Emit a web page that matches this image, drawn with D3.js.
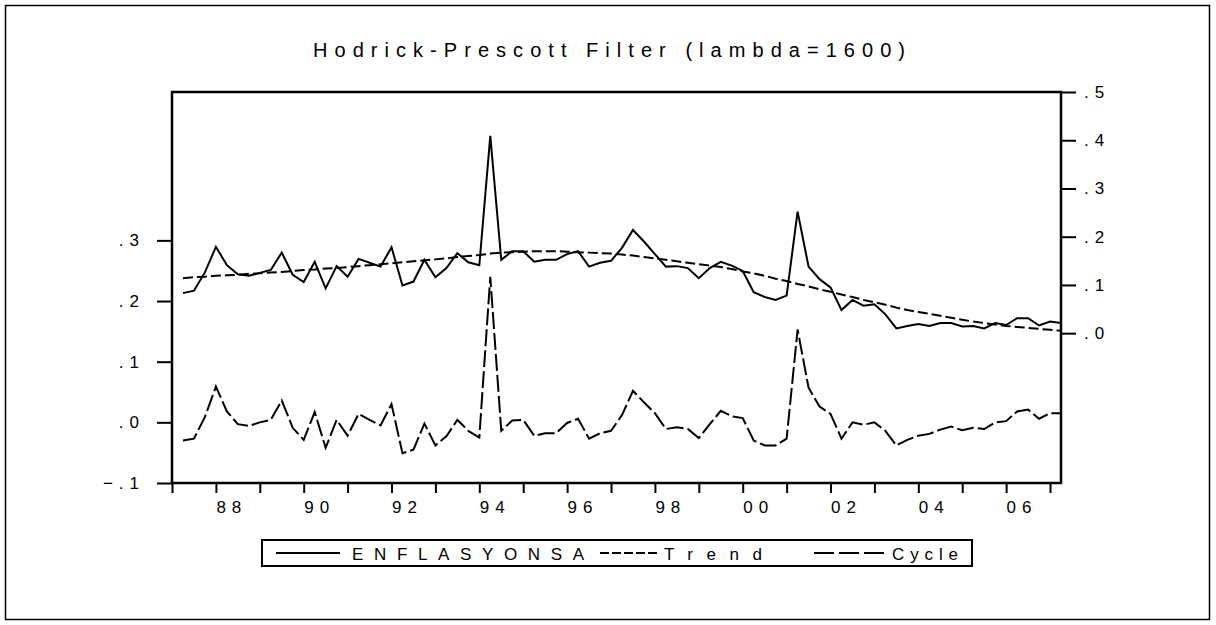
<!DOCTYPE html>
<html>
<head>
<meta charset="utf-8">
<script src="https://cdn.jsdelivr.net/npm/d3@7"></script>
<style>
  body { margin: 0; background: #fff; }
  text { font-family: "Liberation Sans Narrow", "Arial Narrow", "Liberation Sans", Arial, sans-serif; fill: #000; }
</style>
</head>
<body>
<svg id="chart"></svg>
<script>
// quarterly observations, 1987Q2 .. 2007Q2 (plotted as decimal years)
const quarters = d3.range(81).map(i => 1987.25 + i / 4);

// ENFLASYONSA (right axis)
const actual = [
  .083, .088, .126, .179, .141, .122, .119, .125, .131, .167,
  .121, .106, .148, .093, .139, .117, .154, .146, .138, .178,
  .099, .107, .152, .116, .135, .166, .147, .141, .409, .152,
  .170, .170, .148, .152, .152, .164, .170, .138, .146, .150,
  .177, .214, .190, .164, .138, .139, .135, .114, .135, .148,
  .140, .129, .085, .075, .069, .078, .252, .138, .112, .095,
  .048, .069, .057, .060, .039, .010, .015, .019, .015, .021,
  .021, .014, .015, .010, .021, .017, .031, .031, .016, .024,
  .021
];

// Trend (right axis)
const trend = [
  .114, .116, .117, .119, .120, .121, .123, .124, .126, .127,
  .129, .131, .132, .134, .135, .137, .139, .141, .143, .145,
  .147, .149, .151, .153, .155, .158, .160, .162, .165, .167,
  .168, .169, .170, .170, .170, .169, .168, .167, .166, .165,
  .163, .161, .158, .155, .152, .149, .146, .143, .140, .137,
  .133, .128, .124, .119, .113, .108, .102, .097, .091, .086,
  .080, .075, .069, .064, .059, .053, .048, .044, .040, .036,
  .032, .028, .024, .021, .018, .015, .013, .011, .009, .007,
  .005
];

// Cycle (left axis)
const cycle = [
  -.030, -.027, .009, .059, .018, -.003, -.006, .000, .004, .036,
  -.009, -.029, .017, -.042, .004, -.022, .014, .004, -.005, .030,
  -.051, -.045, -.002, -.038, -.023, .004, -.014, -.025, .240, -.014,
  .003, .004, -.022, -.018, -.018, -.001, .006, -.027, -.018, -.014,
  .012, .052, .033, .015, -.011, -.008, -.011, -.026, -.003, .019,
  .010, .007, -.030, -.038, -.038, -.027, .153, .057, .026, .014,
  -.027, .000, -.004, .000, -.014, -.038, -.029, -.022, -.019, -.012,
  -.007, -.013, -.009, -.011, .000, .002, .018, .021, .006, .015,
  .015
];

const yearTicks = d3.range(1987, 2008);
const leftTicks = [-0.1, 0, 0.1, 0.2, 0.3];
const rightTicks = [0, 0.1, 0.2, 0.3, 0.4, 0.5];
const titleText = "Hodrick-Prescott Filter (lambda=1600)";
const legendNames = ["ENFLASYONSA", "Trend", "Cycle"];

const W = 1216, H = 625;
const L = 172, R = 1061, T = 92, B = 483;
const FONT = '"Liberation Sans Narrow", "Arial Narrow", "Liberation Sans", Arial, sans-serif';

const svg = d3.select('#chart').attr('width', W).attr('height', H);

// outer border
svg.append('rect')
  .attr('x', 5.5).attr('y', 5.5).attr('width', 1204).attr('height', 614)
  .attr('fill', 'none').attr('stroke', '#000').attr('stroke-width', 1.5);

svg.append('text')
  .attr('x', 313).attr('y', 57)
  .attr('font-size', 20)
  .attr('textLength', 592).attr('lengthAdjust', 'spacing')
  .text(titleText);

const x = d3.scaleLinear().domain([1987, 2007.25]).range([L, R]);
const yL = d3.scaleLinear().domain([-0.1, 0.5446]).range([B, T]);
const yR = d3.scaleLinear().domain([-0.3106, 0.5]).range([B, T]);

const fmt = d => d3.format('.1f')(d).replace('0.', '.');

// axes
const gx = svg.append('g').attr('transform', `translate(0,${B})`)
  .call(d3.axisBottom(x).tickValues(yearTicks).tickSize(10).tickPadding(8)
    .tickFormat(d => d % 2 === 0 ? String(d).slice(2) : ''));
const gl = svg.append('g').attr('transform', `translate(${L},0)`)
  .call(d3.axisLeft(yL).tickValues(leftTicks).tickSize(15).tickPadding(12).tickFormat(fmt));
const gr = svg.append('g').attr('transform', `translate(${R},0)`)
  .call(d3.axisRight(yR).tickValues(rightTicks).tickSize(15).tickPadding(8).tickFormat(fmt));

[gx, gl, gr].forEach(g => {
  g.select('.domain').remove();
  g.selectAll('.tick line').attr('stroke', '#000').attr('stroke-width', 2);
  g.selectAll('.tick text')
    .attr('font-family', FONT)
    .attr('font-size', 17).attr('fill', '#000')
    .style('letter-spacing', '6px');
});
gx.selectAll('.tick text').attr('text-anchor', 'start').attr('x', 0);

// plot lines
svg.append('clipPath').attr('id', 'clip')
  .append('rect').attr('x', L).attr('y', T).attr('width', R - L).attr('height', B - T);

const plot = svg.append('g').attr('clip-path', 'url(#clip)');

const lineR = d3.line().x((d, i) => x(quarters[i])).y(d => yR(d));
const lineL = d3.line().x((d, i) => x(quarters[i])).y(d => yL(d));

plot.append('path').datum(trend).attr('d', lineR)
  .attr('fill', 'none').attr('stroke', '#000').attr('stroke-width', 2)
  .attr('stroke-dasharray', '10,4');
plot.append('path').datum(cycle).attr('d', lineL)
  .attr('fill', 'none').attr('stroke', '#000').attr('stroke-width', 2)
  .attr('stroke-dasharray', '17,4');
plot.append('path').datum(actual).attr('d', lineR)
  .attr('fill', 'none').attr('stroke', '#000').attr('stroke-width', 2);

// frame
svg.append('rect')
  .attr('x', L).attr('y', T).attr('width', R - L).attr('height', B - T)
  .attr('fill', 'none').attr('stroke', '#000').attr('stroke-width', 2.5);

// legend
const lg = svg.append('g');
lg.append('rect')
  .attr('x', 262).attr('y', 540).attr('width', 710).attr('height', 26)
  .attr('fill', '#fff').attr('stroke', '#000').attr('stroke-width', 2);

const legendItems = [
  {name: legendNames[0], x1: 276, x2: 340, tx: 352, tw: 232, dash: null},
  {name: legendNames[1], x1: 600, x2: 658, tx: 664, tw: 98, dash: '9,3'},
  {name: legendNames[2], x1: 814, x2: 885, tx: 892, tw: 66, dash: '20,5'}
];
legendItems.forEach(d => {
  lg.append('line')
    .attr('x1', d.x1).attr('x2', d.x2).attr('y1', 553).attr('y2', 553)
    .attr('stroke', '#000').attr('stroke-width', 2)
    .attr('stroke-dasharray', d.dash);
  lg.append('text')
    .attr('x', d.tx).attr('y', 559.5)
    .attr('font-size', 17)
    .attr('textLength', d.tw).attr('lengthAdjust', 'spacing')
    .text(d.name);
});
</script>
</body>
</html>
